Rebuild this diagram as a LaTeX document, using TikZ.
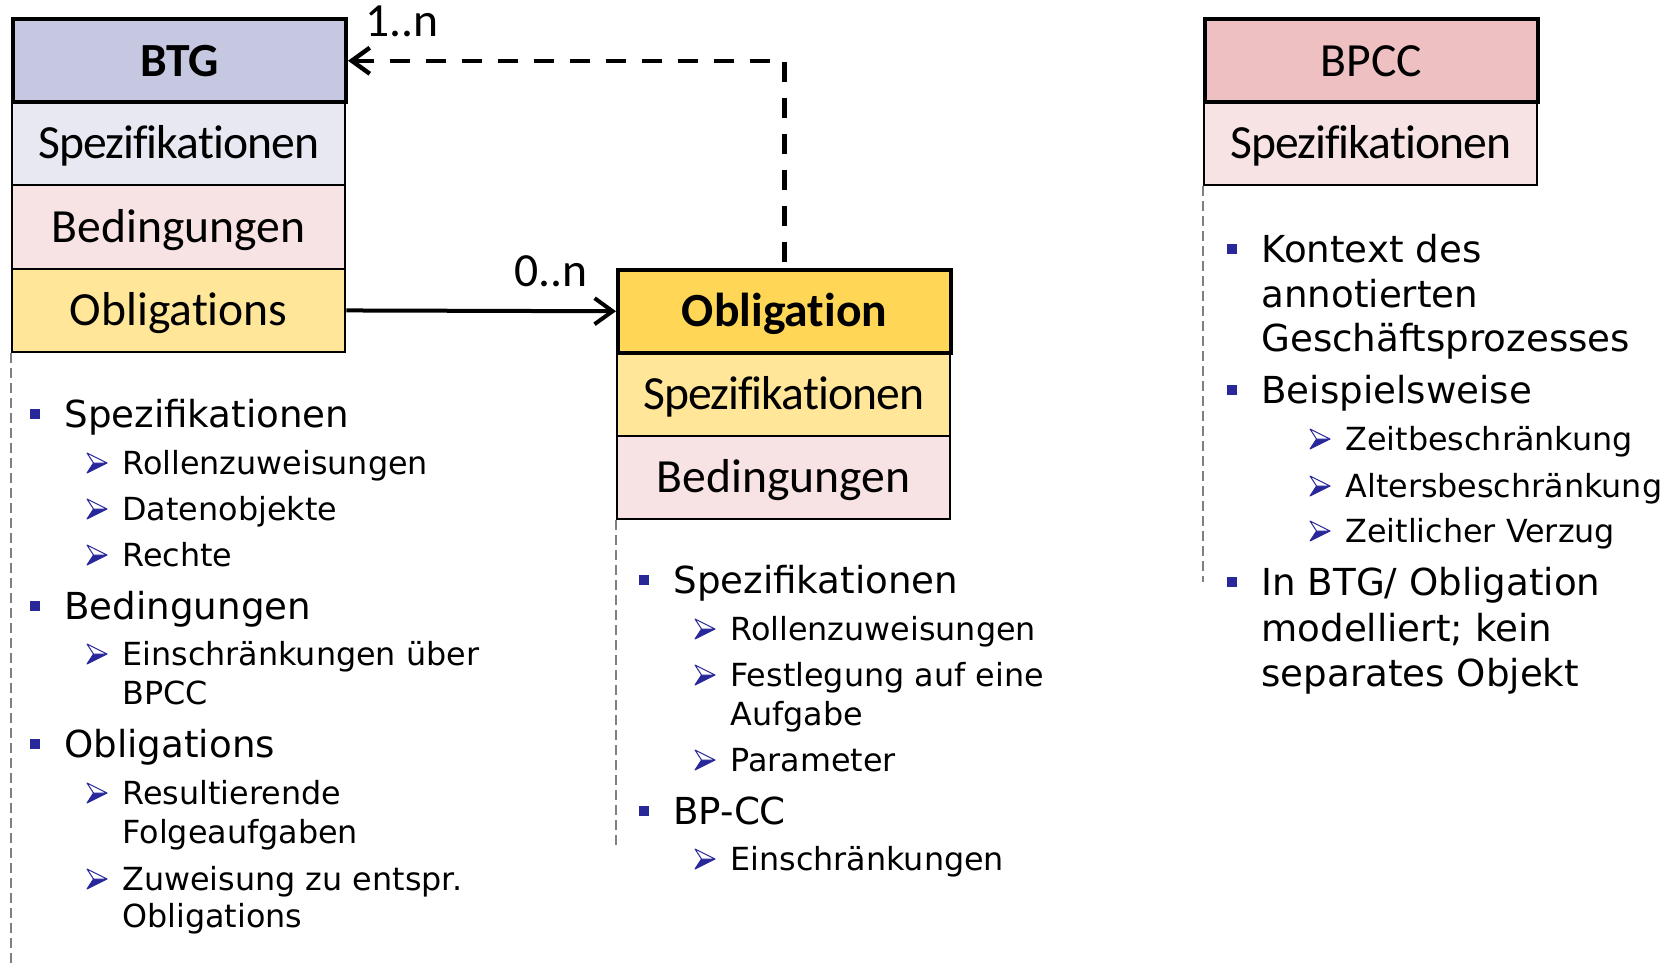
\documentclass[tikz,border=0pt]{standalone}
\usepackage{fontspec}
\setmainfont{Carlito}[Ligatures=NoCommon]
\newfontfamily\listfont{DejaVu Sans}
\usetikzlibrary{arrows.meta}

\definecolor{navy}{RGB}{40,40,155}
\definecolor{btghead}{RGB}{197,200,224}
\definecolor{specblue}{RGB}{232,232,242}
\definecolor{condpink}{RGB}{247,227,228}
\definecolor{obllight}{RGB}{255,230,153}
\definecolor{oblgold}{RGB}{255,214,86}
\definecolor{bpcchead}{RGB}{238,192,193}
\definecolor{guidegray}{RGB}{128,128,128}

\begin{document}
\begin{tikzpicture}[x=0.5pt,y=-0.5pt,
  boxrow/.style={draw=black, line width=1.2pt, anchor=north west, inner sep=0pt,
    minimum width=166.5pt, minimum height=41.75pt,
    font=\fontsize{23.8}{27}\selectfont, text height=15.3pt, text depth=0pt},
  specrow/.style={boxrow, font=\fontsize{23.8}{27}\selectfont\addfontfeature{LetterSpace=-2}},
  boxhead/.style={boxrow, line width=2pt},
  mult/.style={inner sep=0pt, font=\fontsize{23.8}{27}\selectfont, text height=15.3pt, text depth=0pt},
  link/.style={line width=2pt, -{Straight Barb[length=9pt,width=13pt]}},
  backlink/.style={line width=2.2pt, dash pattern=on 10pt off 8pt,
    {Straight Barb[length=9pt,width=13pt]}-},
  guide/.style={draw=guidegray, line width=0.9pt, dash pattern=on 5pt off 2.5pt},
  lone/.style={anchor=west, inner sep=0pt, font=\listfont\fontsize{18.6}{22}\selectfont,
    text height=13.6pt, text depth=0pt},
  ltwo/.style={anchor=west, inner sep=0pt, font=\listfont\fontsize{15.9}{19}\selectfont,
    text height=11.6pt, text depth=0pt},
  sqbul/.pic={\fill[navy] (-5,-5) rectangle (5,5);},
  arrbul/.pic={
    \fill[navy] (-3.5,0) -- (10,0) -- (-10,10) -- cycle;
    \filldraw[draw=navy, fill=white, line width=0.5pt, line join=round]
      (-3.5,0) -- (-10,-10) -- (10,0) -- cycle;
    \draw[navy, line width=0.5pt, line join=round] (-3.5,0) -- (-10,10) -- (10,0);
  }
]
\useasboundingbox (0,0) rectangle (1674,968);

% ---- class boxes: compartments first, title rows on top ----
\node[specrow, fill=specblue] (btgspec) at (11,100.5) {Spezifikationen};
\node[boxrow, fill=condpink] (btgcond) at (11,184) {Bedingungen};
\node[boxrow, fill=obllight] (btgobls) at (11,267.5) {Obligations};
\node[boxhead, fill=btghead] (btg) at (11,17) {\bfseries BTG};

\node[specrow, fill=obllight] (oblspec) at (616,351) {Spezifikationen};
\node[boxrow, fill=condpink] (oblcond) at (616,434.5) {Bedingungen};
\node[boxhead, fill=oblgold] (obl) at (616,267.5) {\bfseries Obligation};

\node[specrow, fill=condpink] (bpccspec) at (1203,100.5) {Spezifikationen};
\node[boxhead, fill=bpcchead] (bpcc) at (1203,17) {BPCC};

% ---- associations ----
\draw[link] (btgobls.east) -- (obl.west);
\node[mult] (mzero) at (551,271) {0..n};
\draw[backlink] (btg.east) -| (obl.north);
\node[mult] (mone) at (402,21) {1..n};

% ---- dashed guide lines below the boxes ----
\coordinate (gbtg) at (11,968);
\coordinate (gobl) at (616,849);
\coordinate (gbpcc) at (1203,582);
\draw[guide] (btgobls.south west) -- (gbtg);
\draw[guide] (oblcond.south west) -- (gobl);
\draw[guide] (bpccspec.south west) -- (gbpcc);

% ---- BTG notes ----
\pic at (35,414) {sqbul};
\node[lone] (ta1) at (64,414) {Spezifikationen};
\pic at (97,463) {arrbul};
\node[ltwo] (ta2) at (122,463) {Rollenzuweisungen};
\pic at (97,509) {arrbul};
\node[ltwo] (ta3) at (122,509) {Datenobjekte};
\pic at (97,555) {arrbul};
\node[ltwo] (ta4) at (122,555) {Rechte};
\pic at (35,606) {sqbul};
\node[lone] (ta5) at (64,606) {Bedingungen};
\pic at (97,654) {arrbul};
\node[ltwo] (ta6) at (122,654) {Einschränkungen über};
\node[ltwo] (ta7) at (122,693) {BPCC};
\pic at (35,744) {sqbul};
\node[lone] (ta8) at (64,744) {Obligations};
\pic at (97,793) {arrbul};
\node[ltwo] (ta9) at (122,793) {Resultierende};
\node[ltwo] (ta10) at (122,832) {Folgeaufgaben};
\pic at (97,879) {arrbul};
\node[ltwo] (ta11) at (122,879) {Zuweisung zu entspr.};
\node[ltwo] (ta12) at (122,916) {Obligations};

% ---- Obligation notes ----
\pic at (644,580) {sqbul};
\node[lone] (tb1) at (673,580) {Spezifikationen};
\pic at (705,629) {arrbul};
\node[ltwo] (tb2) at (730,629) {Rollenzuweisungen};
\pic at (705,675) {arrbul};
\node[ltwo] (tb3) at (730,675) {Festlegung auf eine};
\node[ltwo] (tb4) at (730,714) {Aufgabe};
\pic at (705,760) {arrbul};
\node[ltwo] (tb5) at (730,760) {Parameter};
\pic at (644,811) {sqbul};
\node[lone] (tb6) at (673,811) {BP-CC};
\pic at (705,859) {arrbul};
\node[ltwo] (tb7) at (730,859) {Einschränkungen};

% ---- BPCC notes ----
\pic at (1232,249) {sqbul};
\node[lone] (tc1) at (1261,249) {Kontext des};
\node[lone] (tc2) at (1261,294) {annotierten};
\node[lone] (tc3) at (1261,338) {Geschäftsprozesses};
\pic at (1232,390) {sqbul};
\node[lone] (tc4) at (1261,390) {Beispielsweise};
\pic at (1320,439) {arrbul};
\node[ltwo] (tc5) at (1345,439) {Zeitbeschränkung};
\pic at (1320,486) {arrbul};
\node[ltwo] (tc6) at (1345,486) {Altersbeschränkung};
\pic at (1320,531) {arrbul};
\node[ltwo] (tc7) at (1345,531) {Zeitlicher Verzug};
\pic at (1232,582) {sqbul};
\node[lone] (tc8) at (1261,582) {In BTG/ Obligation};
\node[lone] (tc9) at (1261,628) {modelliert; kein};
\node[lone] (tc10) at (1261,673) {separates Objekt};
\end{tikzpicture}
\end{document}
